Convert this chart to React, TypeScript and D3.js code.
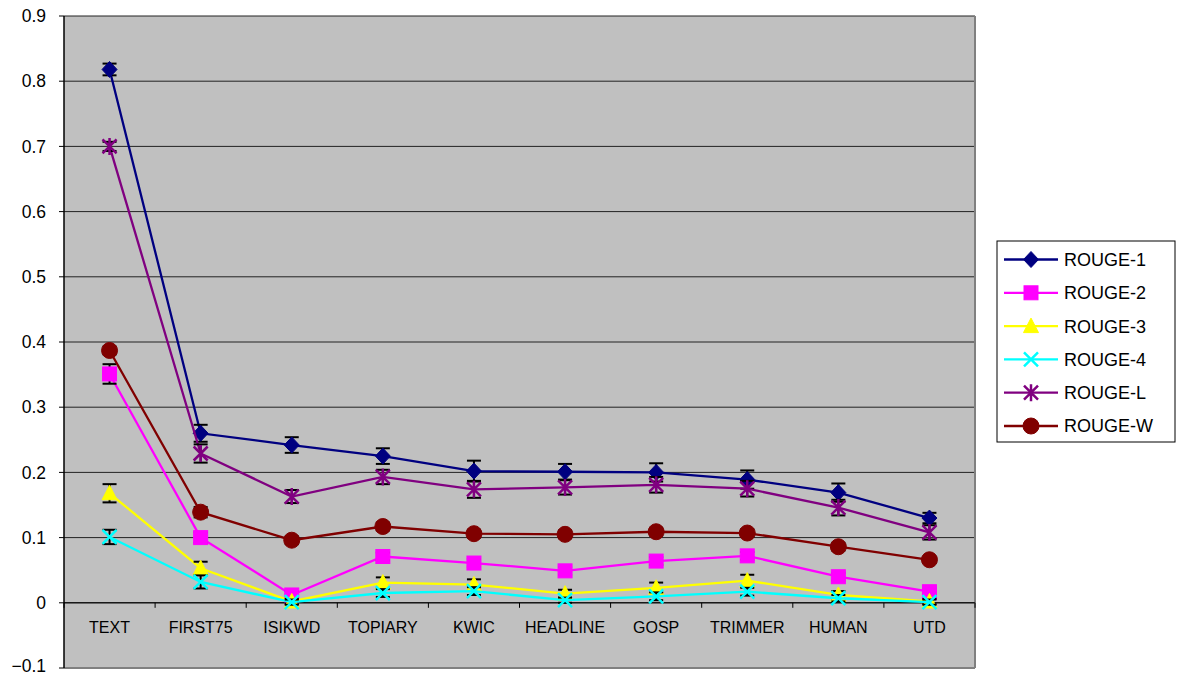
import React from "react";
import * as d3 from "d3";

const categories = ["TEXT", "FIRST75", "ISIKWD", "TOPIARY", "KWIC", "HEADLINE", "GOSP", "TRIMMER", "HUMAN", "UTD"];
const seriesNames = ["ROUGE-1", "ROUGE-2", "ROUGE-3", "ROUGE-4", "ROUGE-L", "ROUGE-W"];
const seriesColors = ["#000080", "#FF00FF", "#FFFF00", "#00FFFF", "#800080", "#800000"];
const seriesMarkers = ["diamond", "square", "triangle", "x", "star", "circle"];

const rouge1 = [0.818, 0.260, 0.242, 0.225, 0.202, 0.201, 0.200, 0.189, 0.169, 0.130];
const rouge2 = [0.351, 0.100, 0.012, 0.071, 0.061, 0.049, 0.064, 0.072, 0.040, 0.017];
const rouge3 = [0.168, 0.053, 0.002, 0.031, 0.028, 0.014, 0.023, 0.034, 0.012, 0.002];
const rouge4 = [0.101, 0.032, 0.001, 0.015, 0.018, 0.004, 0.010, 0.017, 0.007, 0.001];
const rougeL = [0.700, 0.229, 0.163, 0.193, 0.174, 0.177, 0.181, 0.175, 0.146, 0.108];
const rougeW = [0.387, 0.139, 0.096, 0.117, 0.106, 0.105, 0.109, 0.107, 0.086, 0.066];

const err1 = [0.009, 0.013, 0.012, 0.012, 0.016, 0.012, 0.014, 0.014, 0.014, 0.008];
const err2 = [0.015, 0.008, 0.006, 0.006, 0.006, 0.006, 0.006, 0.006, 0.006, 0.005];
const err3 = [0.014, 0.010, 0.004, 0.008, 0.008, 0.006, 0.008, 0.009, 0.006, 0.004];
const err4 = [0.011, 0.010, 0.004, 0.006, 0.006, 0.004, 0.006, 0.006, 0.005, 0.004];
const errL = [0.007, 0.014, 0.010, 0.011, 0.013, 0.011, 0.012, 0.012, 0.012, 0.011];
const errW = [0.006, 0.008, 0.006, 0.006, 0.006, 0.006, 0.006, 0.006, 0.006, 0.005];

const seriesValues = [rouge1, rouge2, rouge3, rouge4, rougeL, rougeW];
const seriesErrors = [err1, err2, err3, err4, errL, errW];

const yTicks = [-0.1, 0, 0.1, 0.2, 0.3, 0.4, 0.5, 0.6, 0.7, 0.8, 0.9];

const W = 1178;
const H = 676;
const plot = { left: 64, right: 975, top: 16, bottom: 668 };
const FONT = "Arial, 'Liberation Sans', sans-serif";

function Marker({ type, x, y, color }: { type: string; x: number; y: number; color: string }) {
  switch (type) {
    case "diamond":
      return <path d={`M${x},${y - 8}L${x + 7.5},${y}L${x},${y + 8}L${x - 7.5},${y}Z`} fill={color} stroke={color} strokeWidth={1} />;
    case "square":
      return <rect x={x - 7} y={y - 7} width={14} height={14} fill={color} stroke={color} strokeWidth={1} />;
    case "triangle":
      return <path d={`M${x},${y - 8}L${x + 7.5},${y + 6.5}L${x - 7.5},${y + 6.5}Z`} fill={color} stroke={color} strokeWidth={1} />;
    case "x":
      return (
        <path d={`M${x - 7},${y - 7}L${x + 7},${y + 7}M${x - 7},${y + 7}L${x + 7},${y - 7}`} stroke={color} strokeWidth={2.5} fill="none" />
      );
    case "star":
      return (
        <path
          d={`M${x - 7},${y - 7}L${x + 7},${y + 7}M${x - 7},${y + 7}L${x + 7},${y - 7}M${x},${y - 8.5}L${x},${y + 8.5}`}
          stroke={color}
          strokeWidth={2.5}
          fill="none"
        />
      );
    case "circle":
    default:
      return <circle cx={x} cy={y} r={8} fill={color} stroke={color} strokeWidth={1} />;
  }
}

export default function App() {
  const x = d3.scaleBand<string>().domain(categories).range([plot.left, plot.right]).padding(0);
  const y = d3.scaleLinear().domain([-0.1, 0.9]).range([plot.bottom, plot.top]);
  const cx = (c: string) => (x(c) as number) + x.bandwidth() / 2;
  const line = d3
    .line<number>()
    .x((_, i) => cx(categories[i]))
    .y((d) => y(d));

  const y0 = y(0);
  const legend = { x: 997, y: 241, w: 178, h: 201, rowH: 33.3 };

  return (
    <svg width={W} height={H} style={{ position: "absolute", left: 0, top: 0, background: "#fff" }} fontFamily={FONT}>
      <rect x={plot.left} y={plot.top} width={plot.right - plot.left} height={plot.bottom - plot.top} fill="#C0C0C0" />
      {yTicks.map((t) => (
        <g key={t}>
          {t > -0.1 && <line x1={plot.left} x2={plot.right} y1={y(t)} y2={y(t)} stroke="#222" strokeWidth={1} />}
          <line x1={plot.left - 5} x2={plot.left} y1={y(t)} y2={y(t)} stroke="#000" strokeWidth={1} />
          <text x={46} y={Math.min(y(t), 666)} dy="0.35em" textAnchor="end" fontSize={17.5} fill="#000">
            {d3.format("")(Math.round(t * 10) / 10)}
          </text>
        </g>
      ))}
      <line x1={plot.right} x2={plot.right} y1={plot.top} y2={plot.bottom} stroke="#808080" strokeWidth={2} />
      <line x1={plot.left} x2={plot.right} y1={plot.bottom} y2={plot.bottom} stroke="#808080" strokeWidth={2} />
      <line x1={plot.left} x2={plot.left} y1={plot.top} y2={plot.bottom} stroke="#000" strokeWidth={1.5} />
      <line x1={plot.left} x2={plot.right} y1={y0} y2={y0} stroke="#000" strokeWidth={1} />
      {categories.map((c, i) => (
        <g key={c}>
          <line x1={(x(c) as number) + x.bandwidth()} x2={(x(c) as number) + x.bandwidth()} y1={y0} y2={y0 + 5} stroke="#000" strokeWidth={1} />
          {i === 0 && <line x1={x(c) as number} x2={x(c) as number} y1={y0} y2={y0 + 5} stroke="#000" strokeWidth={1} />}
          <text x={cx(c)} y={y0 + 24} dy="0.36em" textAnchor="middle" fontSize={16} fill="#000">
            {c}
          </text>
        </g>
      ))}
      {seriesValues.map((vals, si) => (
        <g key={seriesNames[si]}>
          <path d={line(vals) as string} fill="none" stroke={seriesColors[si]} strokeWidth={2.3} />
          {vals.map((v, i) => {
            const e = seriesErrors[si][i];
            const px = cx(categories[i]);
            return (
              <g key={i} stroke="#000" strokeWidth={2}>
                <line x1={px} x2={px} y1={y(v - e)} y2={y(v + e)} />
                <line x1={px - 7} x2={px + 7} y1={y(v + e)} y2={y(v + e)} />
                <line x1={px - 7} x2={px + 7} y1={y(v - e)} y2={y(v - e)} />
              </g>
            );
          })}
          {vals.map((v, i) => (
            <Marker key={i} type={seriesMarkers[si]} x={cx(categories[i])} y={y(v)} color={seriesColors[si]} />
          ))}
        </g>
      ))}
      <rect x={legend.x} y={legend.y} width={legend.w} height={legend.h} fill="#fff" stroke="#000" strokeWidth={1} />
      {seriesNames.map((n, i) => {
        const ly = legend.y + 18.5 + i * legend.rowH;
        return (
          <g key={n}>
            <line x1={1004} x2={1058} y1={ly} y2={ly} stroke={seriesColors[i]} strokeWidth={2.3} />
            <Marker type={seriesMarkers[i]} x={1031} y={ly} color={seriesColors[i]} />
            <text x={1064} y={ly} dy="0.36em" fontSize={18} fill="#000">
              {n}
            </text>
          </g>
        );
      })}
    </svg>
  );
}
